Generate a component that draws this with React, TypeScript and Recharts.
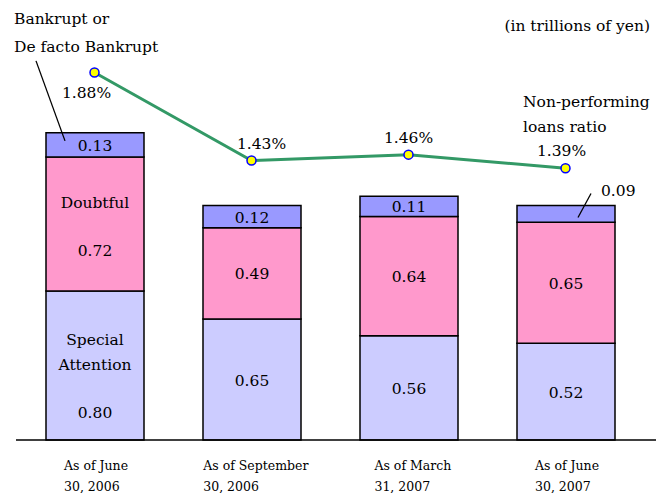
import React from 'react';
import { ComposedChart, Bar, Line, XAxis, YAxis, LabelList, Customized } from 'recharts';

const periods = ['As of June 30, 2006', 'As of September 30, 2006', 'As of March 31, 2007', 'As of June 30, 2007'];
const specialAttention = [0.8, 0.65, 0.56, 0.52];
const doubtful = [0.72, 0.49, 0.64, 0.65];
const bankrupt = [0.13, 0.12, 0.11, 0.09];
const nplRatio = [1.88, 1.43, 1.46, 1.39];

const data = periods.map((p, i) => ({
  period: p,
  special: specialAttention[i],
  doubtful: doubtful[i],
  bankrupt: bankrupt[i],
  ratio: nplRatio[i],
}));

const FONT = '"DejaVu Serif", "Liberation Serif", serif';
const TXT = { fontFamily: FONT, fontSize: 15.5, fill: '#000' };

const PeriodTick = (props: any) => {
  const { x, payload } = props;
  const m = String(payload.value).match(/^(.*?) (\d.*)$/);
  const lines = m ? [m[1], m[2]] : [String(payload.value)];
  const left = x - (lines[0].length * 7.1) / 2 + 5;
  return (
    <g>
      {lines.map((l, i) => (
        <text key={i} x={left} y={470 + i * 21} textAnchor="start" style={{ fontFamily: FONT, fontSize: 12.5, fill: '#000' }}>
          {l}
        </text>
      ))}
    </g>
  );
};

const specialLabel = (props: any) => {
  const { x, y, width, height, index, value } = props;
  const cx = x + width / 2;
  const cy = y + height / 2;
  if (index === 0) {
    return (
      <g>
        <text x={cx} y={cy - 21} textAnchor="middle" style={TXT}>Special</text>
        <text x={cx} y={cy + 4} textAnchor="middle" style={TXT}>Attention</text>
        <text x={cx} y={cy + 52} textAnchor="middle" style={TXT}>{Number(value).toFixed(2)}</text>
      </g>
    );
  }
  return <text x={cx} y={cy + 6} textAnchor="middle" style={TXT}>{Number(value).toFixed(2)}</text>;
};

const doubtfulLabel = (props: any) => {
  const { x, y, width, height, index, value } = props;
  const cx = x + width / 2;
  const cy = y + height / 2;
  if (index === 0) {
    return (
      <g>
        <text x={cx} y={cy - 16} textAnchor="middle" style={TXT}>Doubtful</text>
        <text x={cx} y={cy + 32} textAnchor="middle" style={TXT}>{Number(value).toFixed(2)}</text>
      </g>
    );
  }
  return <text x={cx} y={cy + 6} textAnchor="middle" style={TXT}>{Number(value).toFixed(2)}</text>;
};

const bankruptLabel = (props: any) => {
  const { x, y, width, height, index, value } = props;
  const cx = x + width / 2;
  const cy = y + height / 2;
  if (index === 0) {
    return (
      <g>
        <line x1={x + 19} y1={y + 8} x2={x - 10} y2={y - 72} stroke="#000" strokeWidth={1.3} />
        <text x={cx} y={cy + 6} textAnchor="middle" style={TXT}>{Number(value).toFixed(2)}</text>
      </g>
    );
  }
  if (index === 3) {
    return (
      <g>
        <line x1={x + 61} y1={y + 12} x2={x + 74} y2={y - 12} stroke="#000" strokeWidth={1.3} />
        <text x={x + 84} y={y - 9} textAnchor="start" style={TXT}>{Number(value).toFixed(2)}</text>
      </g>
    );
  }
  return <text x={cx} y={cy + 6} textAnchor="middle" style={TXT}>{Number(value).toFixed(2)}</text>;
};

const ratioLabel = (props: any) => {
  const { x, y, index, value } = props;
  if (index === 0) {
    return <text x={x - 8} y={y + 25} textAnchor="middle" style={TXT}>{Number(value).toFixed(2)}%</text>;
  }
  const shift = index === 1 ? 10 : index === 3 ? -4 : 0;
  return <text x={x + shift} y={y - 12} textAnchor="middle" style={TXT}>{Number(value).toFixed(2)}%</text>;
};

const Notes = () => (
  <g>
    <text x={14} y={24} style={TXT}>Bankrupt or</text>
    <text x={14} y={52} style={TXT}>De facto Bankrupt</text>
    <text x={650} y={31} textAnchor="end" style={TXT}>(in trillions of yen)</text>
    <text x={523} y={107} style={TXT}>Non-performing</text>
    <text x={523} y={132} style={TXT}>loans ratio</text>
  </g>
);

export default function App() {
  return (
    <div style={{ position: 'absolute', left: 0, top: 0, width: 656, height: 493, background: '#fff' }}>
      <ComposedChart width={656} height={493} data={data} margin={{ top: 10, right: 0, left: 16, bottom: 23 }}>
        <XAxis
          dataKey="period"
          height={30}
          axisLine={{ stroke: '#000', strokeWidth: 1.5 }}
          tickLine={false}
          tick={<PeriodTick />}
          padding={{ left: 0, right: 12 }}
          interval={0}
        />
        <YAxis yAxisId="amt" hide domain={[0, 2.31]} />
        <YAxis yAxisId="ratio" hide orientation="right" domain={[0, 2.2]} />
        <Bar yAxisId="amt" dataKey="special" stackId="a" barSize={98} fill="#CCCCFF" stroke="#000" strokeWidth={1.5} isAnimationActive={false}>
          <LabelList dataKey="special" content={specialLabel} />
        </Bar>
        <Bar yAxisId="amt" dataKey="doubtful" stackId="a" barSize={98} fill="#FF99CC" stroke="#000" strokeWidth={1.5} isAnimationActive={false}>
          <LabelList dataKey="doubtful" content={doubtfulLabel} />
        </Bar>
        <Bar yAxisId="amt" dataKey="bankrupt" stackId="a" barSize={98} fill="#9999FF" stroke="#000" strokeWidth={1.5} isAnimationActive={false}>
          <LabelList dataKey="bankrupt" content={bankruptLabel} />
        </Bar>
        <Line
          yAxisId="ratio"
          dataKey="ratio"
          type="linear"
          stroke="#339966"
          strokeWidth={3}
          dot={{ r: 4.5, fill: '#FFFF00', stroke: '#0000FF', strokeWidth: 1.5 }}
          activeDot={false}
          isAnimationActive={false}
        >
          <LabelList dataKey="ratio" content={ratioLabel} />
        </Line>
        <Customized component={Notes} />
      </ComposedChart>
    </div>
  );
}
